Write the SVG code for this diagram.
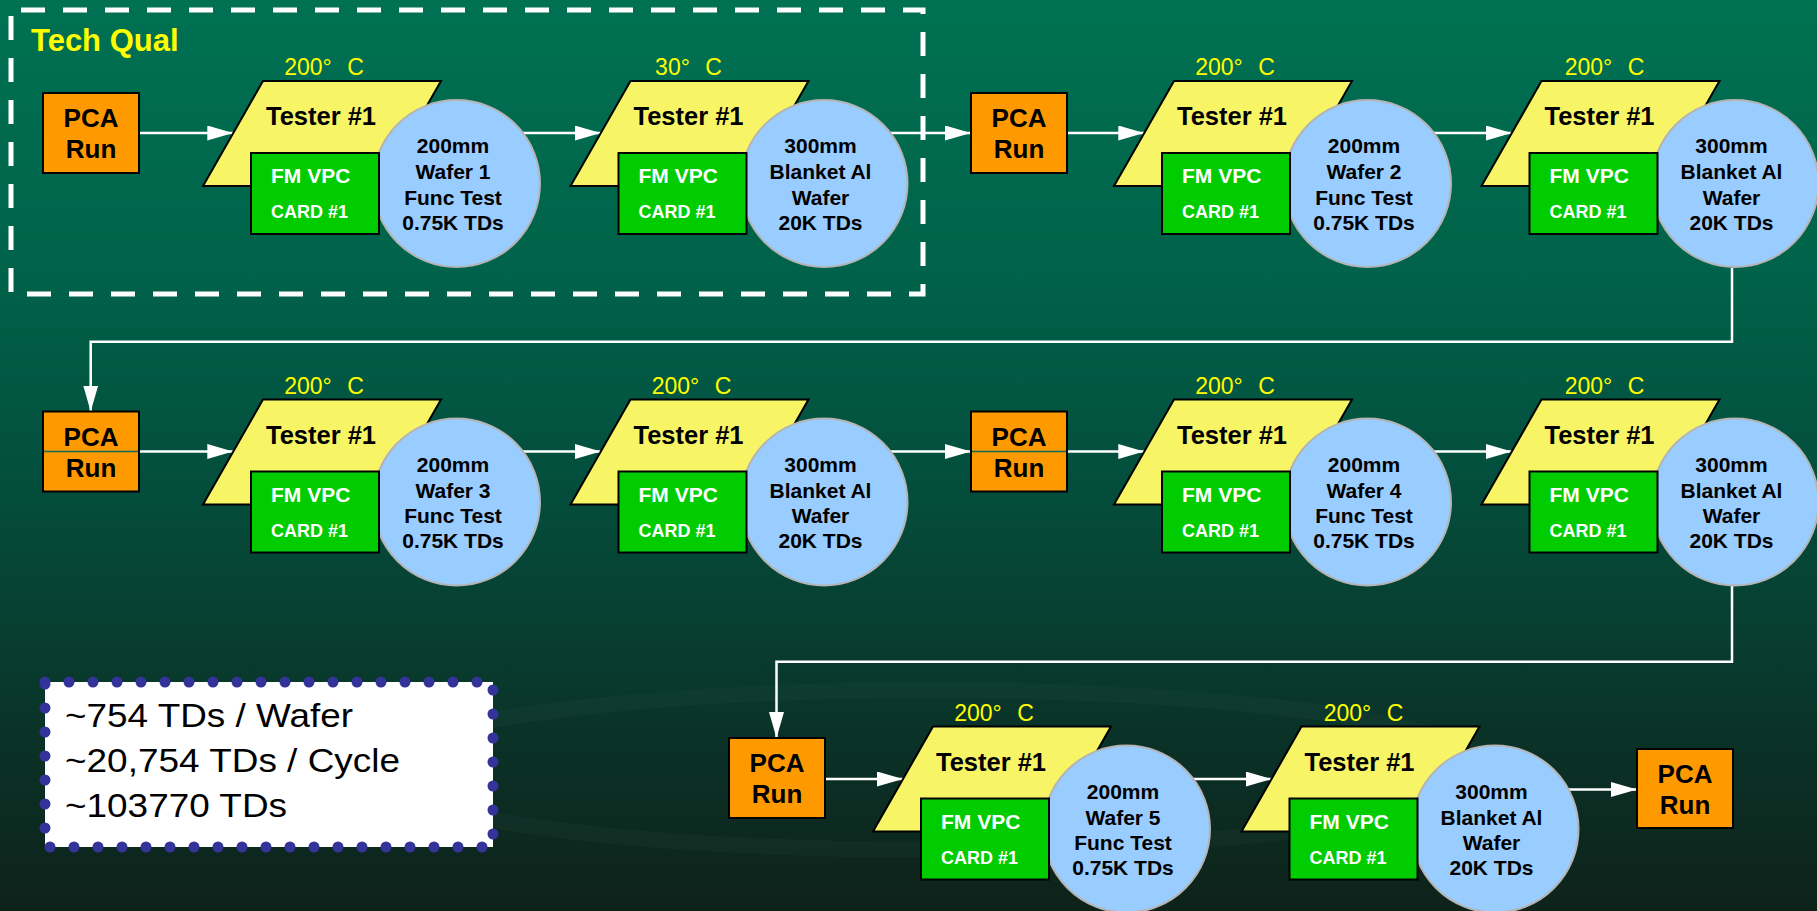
<svg xmlns="http://www.w3.org/2000/svg" width="1817" height="911" viewBox="0 0 1817 911">
<defs>
<linearGradient id="bg" x1="0" y1="0" x2="0" y2="1">
<stop offset="0" stop-color="#007152"/>
<stop offset="0.3" stop-color="#00624A"/>
<stop offset="0.55" stop-color="#044C3B"/>
<stop offset="0.8" stop-color="#0A3328"/>
<stop offset="1" stop-color="#0E221A"/>
</linearGradient>
<marker id="ah" markerUnits="userSpaceOnUse" markerWidth="26" markerHeight="15" refX="26" refY="7.5" orient="auto">
<path d="M0,0 L26,7.5 L0,15 z" fill="#ffffff"/>
</marker>
<style>
.para{fill:#F7F466;stroke:#000;stroke-width:2}
.card{fill:#00CC00;stroke:#000;stroke-width:2}
.wafer{fill:#99CCFF;stroke:#B4B4B4;stroke-width:2}
.pca{fill:#FF9900;stroke:#000;stroke-width:2}
.temp{font-family:"Liberation Sans",Arial,sans-serif;font-size:23px;fill:#FFFF00;text-anchor:middle;word-spacing:9px}
.tester{font-family:"Liberation Sans",Arial,sans-serif;font-size:25.5px;font-weight:bold;fill:#000;text-anchor:middle}
.fm{font-family:"Liberation Sans",Arial,sans-serif;font-size:21px;font-weight:bold;fill:#fff}
.cd{font-family:"Liberation Sans",Arial,sans-serif;font-size:18px;font-weight:bold;fill:#fff}
.wt{font-family:"Liberation Sans",Arial,sans-serif;font-size:21px;font-weight:bold;fill:#000;text-anchor:middle}
.pt{font-family:"Liberation Sans",Arial,sans-serif;font-size:26px;font-weight:bold;fill:#000;text-anchor:middle}
.conn{fill:none;stroke:#fff;stroke-width:2.5;marker-end:url(#ah)}
.div{stroke:#0E6B5E;stroke-width:1.5}
.sum{font-family:"Liberation Sans",Arial,sans-serif;font-size:33px;fill:#000}
</style>
</defs>
<rect x="0" y="0" width="1817" height="911" fill="url(#bg)"/>
<g opacity="0.025" fill="none" stroke="#ffffff">
<ellipse cx="930" cy="770" rx="560" ry="80" stroke-width="16"/>
</g>

<g id="techqual">
<rect x="11" y="10" width="912" height="284" fill="none" stroke="#ffffff" stroke-width="5" stroke-dasharray="24 18" stroke-dashoffset="32"/>
<text x="31" y="51" font-family="Liberation Sans,Arial,sans-serif" font-size="31" font-weight="bold" fill="#FFFF00">Tech Qual</text>
</g>

<g id="connectors">
<path class="conn" d="M139,133 H233.3"/>
<path class="conn" d="M520,133 H600.8"/>
<path class="conn" d="M880,133 H971"/>
<path class="conn" d="M1067,133 H1144.3"/>
<path class="conn" d="M1430,133 H1511.8"/>
<path class="conn" d="M1732,268 V341.7 H90.7 V411.5"/>
<path class="conn" d="M139,451.5 H233.3"/>
<path class="conn" d="M520,451.5 H600.8"/>
<path class="conn" d="M880,451.5 H971"/>
<path class="conn" d="M1067,451.5 H1144.3"/>
<path class="conn" d="M1430,451.5 H1511.8"/>
<path class="conn" d="M1732,586 V661.7 H776.5 V738"/>
<path class="conn" d="M825,779 H903"/>
<path class="conn" d="M1190,779 H1271.7"/>
<path class="conn" d="M1560,789.5 H1637"/>
</g>

<!-- Row 1 -->
<g id="pca1"><rect class="pca" x="43" y="93" width="96" height="80"/><text class="pt" x="91" y="127">PCA</text><text class="pt" x="91" y="158">Run</text></g>

<g id="station1" transform="translate(263,81)">
<polygon class="para" points="0,0 178,0 118,105 -60,105"/>
<text class="temp" x="61" y="-6">200° C</text>
<text class="tester" x="58" y="44">Tester #1</text>
<circle class="wafer" cx="193.5" cy="102.5" r="83.5"/>
<text class="wt" x="190" y="72">200mm</text><text class="wt" x="190" y="98">Wafer 1</text><text class="wt" x="190" y="123.5">Func Test</text><text class="wt" x="190" y="148.5">0.75K TDs</text>
<rect class="card" x="-12" y="72" width="128" height="81"/>
<text class="fm" x="8" y="102">FM VPC</text><text class="cd" x="8" y="137">CARD #1</text>
</g>

<g id="station2" transform="translate(630.5,81)">
<polygon class="para" points="0,0 178,0 118,105 -60,105"/>
<text class="temp" x="58" y="-6">30° C</text>
<text class="tester" x="58" y="44">Tester #1</text>
<circle class="wafer" cx="193.5" cy="102.5" r="83.5"/>
<text class="wt" x="190" y="72">300mm</text><text class="wt" x="190" y="98">Blanket Al</text><text class="wt" x="190" y="123.5">Wafer</text><text class="wt" x="190" y="148.5">20K TDs</text>
<rect class="card" x="-12" y="72" width="128" height="81"/>
<text class="fm" x="8" y="102">FM VPC</text><text class="cd" x="8" y="137">CARD #1</text>
</g>

<g id="pca2"><rect class="pca" x="971" y="93" width="96" height="80"/><text class="pt" x="1019" y="127">PCA</text><text class="pt" x="1019" y="158">Run</text></g>

<g id="station3" transform="translate(1174,81)">
<polygon class="para" points="0,0 178,0 118,105 -60,105"/>
<text class="temp" x="61" y="-6">200° C</text>
<text class="tester" x="58" y="44">Tester #1</text>
<circle class="wafer" cx="193.5" cy="102.5" r="83.5"/>
<text class="wt" x="190" y="72">200mm</text><text class="wt" x="190" y="98">Wafer 2</text><text class="wt" x="190" y="123.5">Func Test</text><text class="wt" x="190" y="148.5">0.75K TDs</text>
<rect class="card" x="-12" y="72" width="128" height="81"/>
<text class="fm" x="8" y="102">FM VPC</text><text class="cd" x="8" y="137">CARD #1</text>
</g>

<g id="station4" transform="translate(1541.5,81)">
<polygon class="para" points="0,0 178,0 118,105 -60,105"/>
<text class="temp" x="63" y="-6">200° C</text>
<text class="tester" x="58" y="44">Tester #1</text>
<circle class="wafer" cx="193.5" cy="102.5" r="83.5"/>
<text class="wt" x="190" y="72">300mm</text><text class="wt" x="190" y="98">Blanket Al</text><text class="wt" x="190" y="123.5">Wafer</text><text class="wt" x="190" y="148.5">20K TDs</text>
<rect class="card" x="-12" y="72" width="128" height="81"/>
<text class="fm" x="8" y="102">FM VPC</text><text class="cd" x="8" y="137">CARD #1</text>
</g>

<!-- Row 2 -->
<g id="pca3"><rect class="pca" x="43" y="411.5" width="96" height="80"/><line class="div" x1="44" y1="451.5" x2="138" y2="451.5"/><text class="pt" x="91" y="445.5">PCA</text><text class="pt" x="91" y="476.5">Run</text></g>

<g id="station5" transform="translate(263,399.5)">
<polygon class="para" points="0,0 178,0 118,105 -60,105"/>
<text class="temp" x="61" y="-6">200° C</text>
<text class="tester" x="58" y="44">Tester #1</text>
<circle class="wafer" cx="193.5" cy="102.5" r="83.5"/>
<text class="wt" x="190" y="72">200mm</text><text class="wt" x="190" y="98">Wafer 3</text><text class="wt" x="190" y="123.5">Func Test</text><text class="wt" x="190" y="148.5">0.75K TDs</text>
<rect class="card" x="-12" y="72" width="128" height="81"/>
<text class="fm" x="8" y="102">FM VPC</text><text class="cd" x="8" y="137">CARD #1</text>
</g>

<g id="station6" transform="translate(630.5,399.5)">
<polygon class="para" points="0,0 178,0 118,105 -60,105"/>
<text class="temp" x="61" y="-6">200° C</text>
<text class="tester" x="58" y="44">Tester #1</text>
<circle class="wafer" cx="193.5" cy="102.5" r="83.5"/>
<text class="wt" x="190" y="72">300mm</text><text class="wt" x="190" y="98">Blanket Al</text><text class="wt" x="190" y="123.5">Wafer</text><text class="wt" x="190" y="148.5">20K TDs</text>
<rect class="card" x="-12" y="72" width="128" height="81"/>
<text class="fm" x="8" y="102">FM VPC</text><text class="cd" x="8" y="137">CARD #1</text>
</g>

<g id="pca4"><rect class="pca" x="971" y="411.5" width="96" height="80"/><line class="div" x1="972" y1="451.5" x2="1066" y2="451.5"/><text class="pt" x="1019" y="445.5">PCA</text><text class="pt" x="1019" y="476.5">Run</text></g>

<g id="station7" transform="translate(1174,399.5)">
<polygon class="para" points="0,0 178,0 118,105 -60,105"/>
<text class="temp" x="61" y="-6">200° C</text>
<text class="tester" x="58" y="44">Tester #1</text>
<circle class="wafer" cx="193.5" cy="102.5" r="83.5"/>
<text class="wt" x="190" y="72">200mm</text><text class="wt" x="190" y="98">Wafer 4</text><text class="wt" x="190" y="123.5">Func Test</text><text class="wt" x="190" y="148.5">0.75K TDs</text>
<rect class="card" x="-12" y="72" width="128" height="81"/>
<text class="fm" x="8" y="102">FM VPC</text><text class="cd" x="8" y="137">CARD #1</text>
</g>

<g id="station8" transform="translate(1541.5,399.5)">
<polygon class="para" points="0,0 178,0 118,105 -60,105"/>
<text class="temp" x="63" y="-6">200° C</text>
<text class="tester" x="58" y="44">Tester #1</text>
<circle class="wafer" cx="193.5" cy="102.5" r="83.5"/>
<text class="wt" x="190" y="72">300mm</text><text class="wt" x="190" y="98">Blanket Al</text><text class="wt" x="190" y="123.5">Wafer</text><text class="wt" x="190" y="148.5">20K TDs</text>
<rect class="card" x="-12" y="72" width="128" height="81"/>
<text class="fm" x="8" y="102">FM VPC</text><text class="cd" x="8" y="137">CARD #1</text>
</g>

<!-- Row 3 -->
<g id="pca5"><rect class="pca" x="729" y="738" width="96" height="80"/><text class="pt" x="777" y="772">PCA</text><text class="pt" x="777" y="803">Run</text></g>

<g id="station9" transform="translate(933,726.5)">
<polygon class="para" points="0,0 178,0 118,105 -60,105"/>
<text class="temp" x="61" y="-6">200° C</text>
<text class="tester" x="58" y="44">Tester #1</text>
<circle class="wafer" cx="193.5" cy="102.5" r="83.5"/>
<text class="wt" x="190" y="72">200mm</text><text class="wt" x="190" y="98">Wafer 5</text><text class="wt" x="190" y="123.5">Func Test</text><text class="wt" x="190" y="148.5">0.75K TDs</text>
<rect class="card" x="-12" y="72" width="128" height="81"/>
<text class="fm" x="8" y="102">FM VPC</text><text class="cd" x="8" y="137">CARD #1</text>
</g>

<g id="station10" transform="translate(1301.5,726.5)">
<polygon class="para" points="0,0 178,0 118,105 -60,105"/>
<text class="temp" x="62" y="-6">200° C</text>
<text class="tester" x="58" y="44">Tester #1</text>
<circle class="wafer" cx="193.5" cy="102.5" r="83.5"/>
<text class="wt" x="190" y="72">300mm</text><text class="wt" x="190" y="98">Blanket Al</text><text class="wt" x="190" y="123.5">Wafer</text><text class="wt" x="190" y="148.5">20K TDs</text>
<rect class="card" x="-12" y="72" width="128" height="81"/>
<text class="fm" x="8" y="102">FM VPC</text><text class="cd" x="8" y="137">CARD #1</text>
</g>

<g id="pca6"><rect class="pca" x="1637" y="749" width="96" height="79"/><text class="pt" x="1685" y="783">PCA</text><text class="pt" x="1685" y="814">Run</text></g>

<!-- Summary -->
<g id="summary">
<rect x="45" y="682" width="448" height="165" fill="#ffffff" stroke="#333399" stroke-width="11" stroke-dasharray="0 24" stroke-linecap="round"/>
<text class="sum" x="65" y="727" textLength="288" lengthAdjust="spacingAndGlyphs">~754 TDs / Wafer</text>
<text class="sum" x="65" y="772" textLength="335" lengthAdjust="spacingAndGlyphs">~20,754 TDs / Cycle</text>
<text class="sum" x="65" y="817" textLength="222" lengthAdjust="spacingAndGlyphs">~103770 TDs</text>
</g>
</svg>
